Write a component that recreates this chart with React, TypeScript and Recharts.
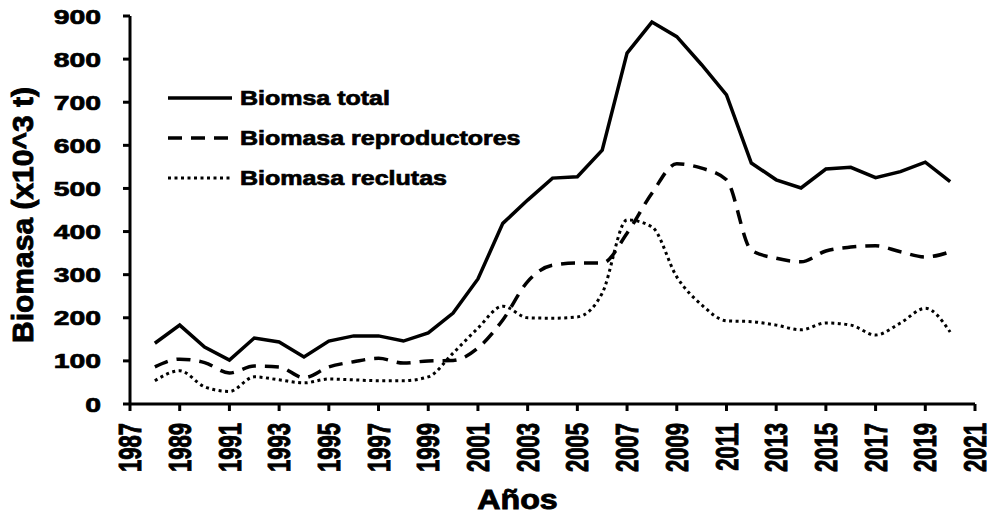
import { LineChart, Line, XAxis, YAxis, Legend } from 'recharts'

const years = [
  1988, 1989, 1990, 1991, 1992, 1993, 1994, 1995, 1996, 1997, 1998, 1999, 2000, 2001, 2002, 2003, 2004,
  2005, 2006, 2007, 2008, 2009, 2010, 2011, 2012, 2013, 2014, 2015, 2016, 2017, 2018, 2019, 2020,
]
const biomasaTotal = [
  141, 183, 132, 102, 153, 144, 109, 146, 158, 158, 146, 165, 211, 290, 419, 473, 524,
  527, 589, 814, 886, 852, 787, 717, 559, 520, 501, 545, 549, 525, 539, 561, 516,
]
const biomasaReproductores = [
  86, 104, 96, 72, 88, 86, 61, 86, 98, 106, 95, 100, 101, 130, 195, 284, 322,
  327, 327, 396, 489, 557, 547, 520, 357, 338, 330, 355, 364, 367, 353, 341, 353,
]
const biomasaReclutas = [
  54, 77, 40, 29, 63, 56, 49, 58, 56, 54, 54, 63, 118, 176, 227, 200, 199,
  202, 257, 427, 411, 295, 230, 193, 191, 183, 172, 188, 183, 160, 188, 222, 167,
]
const xTicks = [1987, 1989, 1991, 1993, 1995, 1997, 1999, 2001, 2003, 2005, 2007, 2009, 2011, 2013, 2015, 2017, 2019, 2021]
const yTicks = [0, 100, 200, 300, 400, 500, 600, 700, 800, 900]

const data = years.map((year, i) => ({
  year,
  total: biomasaTotal[i],
  reproductores: biomasaReproductores[i],
  reclutas: biomasaReclutas[i],
}))

const series = [
  { key: 'total', name: 'Biomsa total', dash: undefined, width: 3.5, curve: 'linear' as const },
  { key: 'reproductores', name: 'Biomasa reproductores', dash: '14 9', width: 3.5, curve: 'monotone' as const },
  { key: 'reclutas', name: 'Biomasa reclutas', dash: '3 3.5', width: 3, curve: 'monotone' as const },
]

const font = '"Liberation Sans", Arial, sans-serif'
// the reference text is very heavy, a thin outline thickens the bold face a bit
const heavy = { fontFamily: font, fontWeight: 'bold' as const, fill: '#000', stroke: '#000', strokeWidth: 0.7 }

function YTick({ x, y, payload }: any) {
  return (
    <g transform={`translate(${x},${y}) scale(1.35,1)`}>
      <text x={0} y={0} dy="0.36em" textAnchor="end" fontSize={21} {...heavy}>
        {payload.value}
      </text>
    </g>
  )
}

function XTick({ x, y, payload }: any) {
  return (
    <g transform={`translate(${x},${y + 2}) scale(1.4,1) rotate(-90)`}>
      <text x={0} y={0} dy="0.36em" textAnchor="end" fontSize={22} {...heavy}>
        {payload.value}
      </text>
    </g>
  )
}

function YTitle({ viewBox }: any) {
  const cx = viewBox.x + 33
  const cy = viewBox.y + viewBox.height / 2 + 5
  return (
    <text transform={`translate(${cx},${cy}) rotate(-90)`} textAnchor="middle" fontSize={30} {...heavy} strokeWidth={0.9}>
      Biomasa (x10^3 t)
    </text>
  )
}

function XTitle({ viewBox }: any) {
  const cx = viewBox.x + viewBox.width / 2 - 35
  const cy = viewBox.y + 105
  return (
    <g transform={`translate(${cx},${cy}) scale(1.15,1)`}>
      <text textAnchor="middle" fontSize={28} {...heavy} strokeWidth={0.9}>
        Años
      </text>
    </g>
  )
}

function LegendBox() {
  return (
    <div>
      {series.map((s) => (
        <div key={s.key} style={{ display: 'flex', alignItems: 'center', height: 40 }}>
          <svg width={72} height={20}>
            <line x1={0} y1={10} x2={64} y2={10} stroke="#000" strokeWidth={s.width} strokeDasharray={s.dash} />
          </svg>
          <svg width={300} height={30}>
            <g transform="translate(0,15) scale(1.25,1)">
              <text x={0} y={0} dy="0.36em" fontSize={20} {...heavy}>
                {s.name}
              </text>
            </g>
          </svg>
        </div>
      ))}
    </div>
  )
}

export default function App() {
  return (
    <div style={{ width: 992, height: 514, background: '#fff' }}>
      <style>{'body{margin:0}'}</style>
      <LineChart width={992} height={514} data={data} margin={{ top: 16, right: 17, left: 0, bottom: 0 }}>
        <XAxis
          dataKey="year"
          type="number"
          domain={[1987, 2021]}
          ticks={xTicks}
          interval={0}
          height={110}
          axisLine={{ stroke: '#000', strokeWidth: 3 }}
          tickLine={{ stroke: '#000', strokeWidth: 3 }}
          tickSize={7}
          tickMargin={10}
          tick={<XTick />}
          label={{ content: <XTitle /> }}
        />
        <YAxis
          domain={[0, 900]}
          ticks={yTicks}
          interval={0}
          width={130}
          axisLine={{ stroke: '#000', strokeWidth: 3 }}
          tickLine={{ stroke: '#000', strokeWidth: 3 }}
          tickSize={7}
          tickMargin={22}
          tick={<YTick />}
          label={{ content: <YTitle /> }}
        />
        <Legend
          layout="horizontal"
          verticalAlign="middle"
          align="center"
          content={<LegendBox />}
          wrapperStyle={{ position: 'absolute', top: 78, left: 168, width: 420, height: 120 }}
        />
        {series.map((s) => (
          <Line
            key={s.key}
            dataKey={s.key}
            name={s.name}
            type={s.curve}
            stroke="#000"
            strokeWidth={s.width}
            strokeDasharray={s.dash}
            dot={false}
            activeDot={false}
            isAnimationActive={false}
          />
        ))}
      </LineChart>
    </div>
  )
}
